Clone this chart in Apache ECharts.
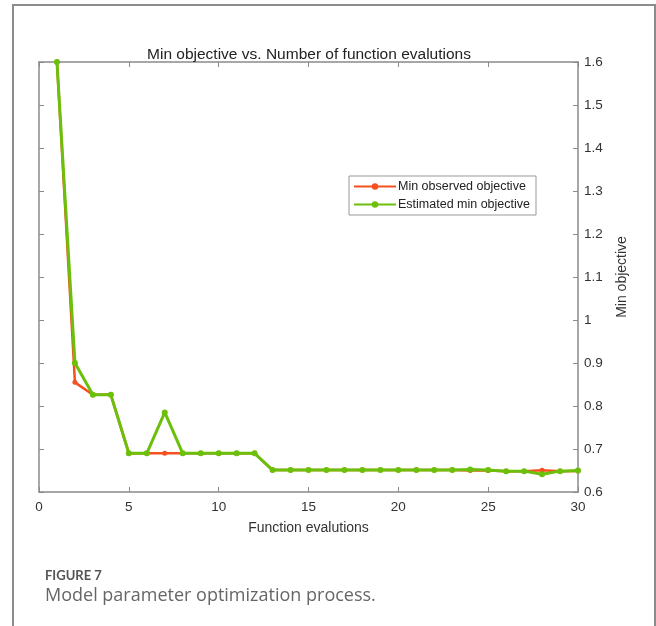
<!DOCTYPE html>
<html>
<head>
<meta charset="utf-8">
<script src="https://cdn.jsdelivr.net/npm/echarts@6/dist/echarts.min.js"></script>
<style>
html,body{margin:0;padding:0;background:#fff;}
#chart{width:656px;height:626px;}
</style>
</head>
<body>
<div id="chart"></div>
<script>
var evaluations = [1,2,3,4,5,6,7,8,9,10,11,12,13,14,15,16,17,18,19,20,21,22,23,24,25,26,27,28,29,30];
var minObserved = [1.6,0.855,0.826,0.826,0.69,0.69,0.69,0.69,0.69,0.69,0.69,0.69,0.651,0.651,0.651,0.651,0.651,0.651,0.651,0.651,0.651,0.651,0.651,0.65,0.65,0.6485,0.6485,0.6505,0.6485,0.649];
var estimatedMin = [1.6,0.9,0.826,0.826,0.69,0.69,0.785,0.69,0.69,0.69,0.69,0.69,0.651,0.651,0.651,0.651,0.651,0.651,0.651,0.651,0.651,0.651,0.651,0.6525,0.651,0.6485,0.6485,0.6415,0.6485,0.65];
var seriesNames = ['Min observed objective','Estimated min objective'];
var titleText = 'Min objective vs. Number of function evalutions';
var xName = 'Function evalutions';
var yName = 'Min objective';
var figLabel = 'FIGURE 7';
var figCaption = 'Model parameter optimization process.';

function pairs(xs, ys){ return xs.map(function(x,i){ return [x, ys[i]]; }); }

var axisColor = '#8a8a8a';
var textColor = '#333';
var ff = 'Liberation Sans, Arial, sans-serif';
var chart = echarts.init(document.getElementById('chart'), null, {renderer:'canvas'});
chart.setOption({
  animation:false,
  backgroundColor:'#fff',
  title:{
    text:titleText, left:304, top:42, textAlign:'center',
    textStyle:{fontFamily:ff, fontSize:15.5, fontWeight:'normal', color:'#222'}
  },
  legend:{
    data:seriesNames, orient:'vertical', left:349, top:176,
    itemWidth:42, itemHeight:8, itemGap:5,
    padding:[4,6,4,4],
    borderColor:'#999', borderWidth:1, backgroundColor:'#fff',
    textStyle:{fontFamily:ff, fontSize:12.5, color:'#222', padding:[0,0,0,-3]}
  },
  grid:{left:39, right:78, top:62, bottom:134, containLabel:false, show:false},
  xAxis:[{
    type:'value', min:0, max:30, interval:5, position:'bottom',
    name:xName, nameLocation:'middle', nameGap:29,
    nameTextStyle:{fontFamily:ff, fontSize:14, color:textColor},
    axisLine:{show:true, onZero:false, lineStyle:{color:axisColor, width:1.5}},
    axisTick:{show:true, inside:true, length:5, lineStyle:{color:axisColor}},
    axisLabel:{fontFamily:ff, fontSize:13.5, color:textColor, margin:8},
    splitLine:{show:false}
  },{
    type:'value', min:0, max:30, interval:5, position:'top',
    axisLine:{show:true, onZero:false, lineStyle:{color:axisColor, width:1.5}},
    axisTick:{show:true, inside:true, length:5, lineStyle:{color:axisColor}},
    axisLabel:{show:false}, splitLine:{show:false}
  }],
  yAxis:[{
    type:'value', min:0.6, max:1.6, interval:0.1, position:'right',
    name:yName, nameLocation:'middle', nameGap:37, nameRotate:90,
    nameTextStyle:{fontFamily:ff, fontSize:14, color:textColor},
    axisLine:{show:true, onZero:false, lineStyle:{color:axisColor, width:1.5}},
    axisTick:{show:true, inside:true, length:5, lineStyle:{color:axisColor}},
    axisLabel:{fontFamily:ff, fontSize:13.5, color:textColor, margin:6,
      formatter:function(v){ var r=Math.round(v*10)/10; return r===1?'1':r.toFixed(1); }},
    splitLine:{show:false}
  },{
    type:'value', min:0.6, max:1.6, interval:0.1, position:'left',
    axisLine:{show:true, onZero:false, lineStyle:{color:axisColor, width:1.5}},
    axisTick:{show:true, inside:true, length:5, lineStyle:{color:axisColor}},
    axisLabel:{show:false}, splitLine:{show:false}
  }],
  series:[{
    name:seriesNames[0], type:'line', xAxisIndex:0, yAxisIndex:0,
    data:pairs(evaluations, minObserved),
    symbol:'circle', symbolSize:5, showSymbol:true,
    lineStyle:{color:'#f4511e', width:2.5},
    itemStyle:{color:'#f4511e'}, z:2
  },{
    name:seriesNames[1], type:'line', xAxisIndex:0, yAxisIndex:0,
    data:pairs(evaluations, estimatedMin),
    symbol:'circle', symbolSize:6, showSymbol:true,
    lineStyle:{color:'#6cbf0a', width:3},
    itemStyle:{color:'#6cbf0a'}, z:3
  }],
  graphic:[
    {type:'polyline', silent:true, shape:{points:[[13,640],[13,5],[655,5],[655,640]]},
     style:{stroke:'#8c8c8c', lineWidth:2, fill:null}},
    {type:'text', left:45, top:569, silent:true,
     style:{text:figLabel, fontFamily:'Lato, Open Sans, sans-serif', fontSize:13, fontWeight:'bold', fill:'#555'}},
    {type:'text', left:45, top:587, silent:true,
     style:{text:figCaption, fontFamily:'Open Sans, Lato, sans-serif', fontSize:18, fill:'#666'}}
  ]
});
</script>
</body>
</html>
